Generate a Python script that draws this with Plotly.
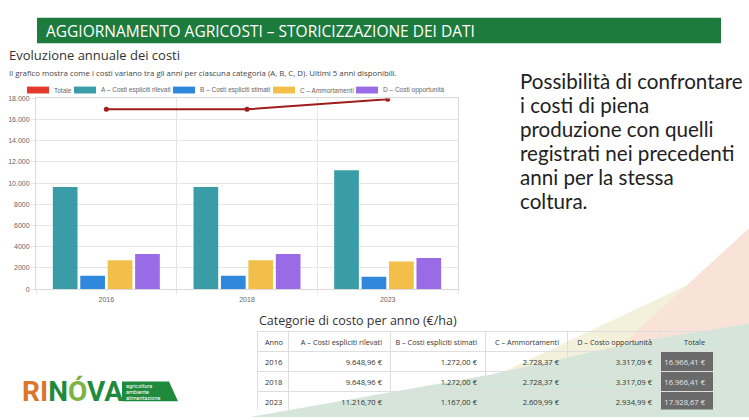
import plotly.graph_objects as go

# ---------------- data ----------------
years = ["2016", "2018", "2023"]
series_names = ["A – Costi espliciti rilevati", "B – Costi espliciti stimati",
                "C – Ammortamenti", "D – Costi opportunità"]
a_vals = [9648.96, 9648.96, 11216.70]
b_vals = [1272.00, 1272.00, 1167.00]
c_vals = [2728.37, 2728.37, 2609.99]
d_vals = [3317.09, 3317.09, 2934.99]
total_name = "Totale"
total_vals = [16966.41, 16966.41, 17928.67]
table_headers = ["Anno", "A – Costi espliciti rilevati", "B – Costi espliciti stimati",
                 "C – Ammortamenti", "D – Costo opportunità", "Totale"]
y_ticks = [0, 2000, 4000, 6000, 8000, 10000, 12000, 14000, 16000, 18000]
side_text = ["Possibilità di confrontare", "i costi di piena", "produzione con quelli",
             "registrati nei precedenti", "anni per la stessa", "coltura."]

# ---------------- styling ----------------
W, H = 749, 420
bar_colors = ["#3a9ca6", "#2f88dc", "#f2bf4b", "#9a6be6"]
total_box_color = "#e5392d"
total_line_color = "#a11d1d"
grid = "#e6e6e6"
chart_font = "Liberation Sans"
NB = "\u00a0"


def X(px):
    return px / W


def Y(py):
    return 1 - py / H


def it_tick(v):
    if v >= 10000:
        return f"{v:,.0f}".replace(",", ".")
    return f"{v:.0f}"


def eur(v):
    s = f"{v:,.2f}".replace(",", "X").replace(".", ",").replace("X", ".")
    return s + NB + "€"


def nb(s):
    return s.replace(" ", NB)


fig = go.Figure()
for name, vals, col in zip(series_names, [a_vals, b_vals, c_vals, d_vals], bar_colors):
    fig.add_trace(go.Bar(x=years, y=vals, name=name, marker=dict(color=col, line=dict(width=0))))
fig.add_trace(go.Scatter(x=years, y=total_vals, name=total_name, mode="lines+markers",
                         line=dict(color=total_line_color, width=2),
                         marker=dict(color=total_line_color, size=5)))

# table
cols = [years, [eur(v) for v in a_vals], [eur(v) for v in b_vals],
        [eur(v) for v in c_vals], [eur(v) for v in d_vals], [eur(v) for v in total_vals]]
clear = "rgba(255,255,255,0)"
fig.add_trace(go.Table(
    domain=dict(x=[X(257), X(713)], y=[Y(413), Y(333)]),
    columnwidth=[31, 102, 95, 82, 93, 53],
    header=dict(values=[nb(h) for h in table_headers], align=["left"] + ["right"] * 5,
                fill=dict(color=clear), line=dict(color="#dedede", width=1),
                font=dict(family="Open Sans", size=7.3, color="#333"), height=20),
    cells=dict(values=cols, align=["left"] + ["right"] * 5,
               fill=dict(color=[[clear] * 3] * 5 + [["#6a6a6a"] * 3]),
               line=dict(color="#dedede", width=1),
               font=dict(family="Open Sans", size=7.6,
                         color=[["#333"] * 3] * 5 + [["#e6e6e6"] * 3]),
               height=20),
))

shapes = []
annotations = []

# background decoration
shapes.append(dict(type="path", xref="paper", yref="paper", layer="below",
                   path=f"M{X(749)},{Y(250)} L{X(687)},{Y(286)} L{X(407)},{Y(420)} L{X(749)},{Y(420)} Z",
                   fillcolor="#f3f1db", line=dict(width=0)))
shapes.append(dict(type="path", xref="paper", yref="paper", layer="below",
                   path=f"M{X(749)},{Y(228)} L{X(544)},{Y(420)} L{X(749)},{Y(420)} Z",
                   fillcolor="#f9e2d7", line=dict(width=0)))
shapes.append(dict(type="path", xref="paper", yref="paper", layer="below",
                   path=f"M{X(250)},{Y(420)} L{X(490)},{Y(377)} L{X(640)},{Y(343)} L{X(749)},{Y(325)} L{X(749)},{Y(420)} Z",
                   fillcolor="#d5e5d9", line=dict(width=0)))

# banner
shapes.append(dict(type="rect", xref="paper", yref="paper", layer="below",
                   x0=X(37), x1=X(721), y0=Y(40), y1=Y(14),
                   fillcolor="#1e7b3e", line=dict(width=0)))
annotations.append(dict(x=X(44), y=Y(27), xref="paper", yref="paper", xanchor="left", yanchor="middle",
                        text="AGGIORNAMENTO AGRICOSTI – STORICIZZAZIONE DEI DATI", showarrow=False,
                        font=dict(family="Open Sans", size=15.5, color="white")))

# chart titles
annotations.append(dict(x=X(7), y=Y(52), xref="paper", yref="paper", xanchor="left", yanchor="middle",
                        text="Evoluzione annuale dei costi", showarrow=False,
                        font=dict(family="Open Sans", size=13, color="#333")))
annotations.append(dict(x=X(7), y=Y(70), xref="paper", yref="paper", xanchor="left", yanchor="middle",
                        text="Il grafico mostra come i costi variano tra gli anni per ciascuna categoria (A, B, C, D). Ultimi 5 anni disponibili.",
                        showarrow=False, font=dict(family="Open Sans", size=7.8, color="#444")))

# legend (manual)
legend_items = [(total_name, total_box_color)] + list(zip(series_names, bar_colors))
legend_x = [27, 74, 173, 273, 356]
for (name, col), lx in zip(legend_items, legend_x):
    shapes.append(dict(type="rect", xref="paper", yref="paper", x0=X(lx), x1=X(lx + 22),
                       y0=Y(91), y1=Y(84), fillcolor=col, line=dict(width=0)))
    annotations.append(dict(x=X(lx + 25), y=Y(87.5), xref="paper", yref="paper", xanchor="left",
                            yanchor="middle", text=name, showarrow=False,
                            font=dict(family=chart_font, size=6.5, color="#666")))

# right text, one line each
for i, line in enumerate(side_text):
    annotations.append(dict(x=X(518), y=Y(78 + 24.5 * i), xref="paper", yref="paper",
                            xanchor="left", yanchor="middle", showarrow=False, text=line,
                            font=dict(family="Lato", size=20.6, color="#222")))

# table title
annotations.append(dict(x=X(257), y=Y(322), xref="paper", yref="paper", xanchor="left", yanchor="middle",
                        text="Categorie di costo per anno (€/ha)", showarrow=False,
                        font=dict(family="Open Sans", size=12.5, color="#333")))

# logo
annotations.append(dict(x=X(20), y=Y(394), xref="paper", yref="paper", xanchor="left", yanchor="middle",
                        showarrow=False,
                        text='<b><span style="color:#d9772b">RI</span><span style="color:#1f8a3c">N</span>'
                             '<span style="color:#7cb342">Ó</span><span style="color:#1f8a3c">VA</span></b>',
                        font=dict(family="Roboto", size=28)))
shapes.append(dict(type="path", xref="paper", yref="paper",
                   path=f"M{X(122)},{Y(384)} L{X(169)},{Y(384)} L{X(178)},{Y(404)} L{X(122)},{Y(404)} Z",
                   fillcolor="#1f8a3c", line=dict(width=0)))
for i, t in enumerate(["agricoltura", "ambiente", "alimentazione"]):
    annotations.append(dict(x=X(124), y=Y(388 + 6.3 * i), xref="paper", yref="paper", xanchor="left",
                            yanchor="middle", text=t, showarrow=False,
                            font=dict(family="Roboto", size=5.5, color="white")))

fig.update_layout(
    width=W, height=H, margin=dict(l=0, r=0, t=0, b=0, pad=0),
    paper_bgcolor="white", plot_bgcolor="white", showlegend=False,
    barmode="group", bargap=0.22, bargroupgap=0.1,
    xaxis=dict(domain=[X(36), X(458)], type="category", tickson="boundaries",
               showgrid=True, gridcolor=grid, ticks="outside", ticklen=4, tickcolor=grid,
               showline=True, linecolor="#dadada", mirror=True, ticklabelstandoff=3,
               tickfont=dict(family=chart_font, size=7, color="#666")),
    yaxis=dict(domain=[Y(290), Y(96)], range=[0, 18000], tickvals=y_ticks,
               ticktext=[it_tick(v) for v in y_ticks],
               showgrid=True, gridcolor=grid, ticks="outside", ticklen=4, tickcolor=grid,
               showline=True, linecolor="#dadada", mirror=True, zeroline=False,
               tickfont=dict(family=chart_font, size=7, color="#666")),
    shapes=shapes, annotations=annotations,
)

fig.write_html("out.html")
